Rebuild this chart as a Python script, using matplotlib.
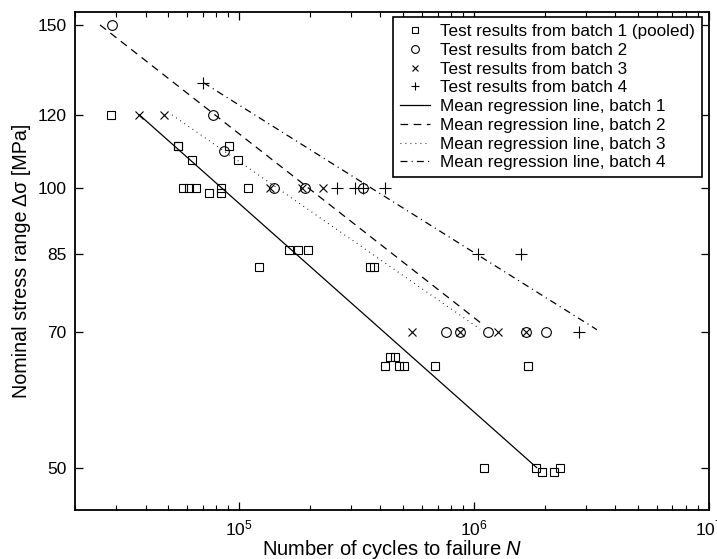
import matplotlib
matplotlib.use("Agg")
import matplotlib.pyplot as plt
from matplotlib.ticker import FixedLocator, NullLocator, LogLocator, NullFormatter

plt.rcParams['font.family'] = ['Liberation Sans', 'DejaVu Sans']
plt.rcParams['mathtext.fontset'] = 'custom'
plt.rcParams['mathtext.it'] = 'Liberation Sans:italic'
plt.rcParams['mathtext.rm'] = 'Liberation Sans'
plt.rcParams['lines.scale_dashes'] = False

# test results, batch 1 (pooled)
b1_N = [28450, 54780, 54780, 90350, 62840, 98970, 57530, 61380, 65560, 74680,
        83780, 83780, 108800, 162700, 177400, 196100, 121300, 361300, 375700,
        418700, 439700, 461800, 481700, 506000, 683800, 1708000, 1105000,
        1836000, 1948000, 2183000, 2331000]
b1_S = [120, 111, 111, 111, 107.2, 107.2, 100, 100, 100, 98.8,
        100, 98.8, 100, 85.8, 85.8, 85.8, 82.3, 82.3, 82.3,
        64.4, 65.8, 65.8, 64.4, 64.4, 64.4, 64.4, 50,
        50, 49.4, 49.4, 50]

# batch 2
b2_N = [28670, 77200, 86270, 140900, 191000, 338300, 761800, 869800,
        1153000, 1659000, 2032000]
b2_S = [150, 120, 109.8, 100, 100, 100, 70, 70, 70, 70, 70]

# batch 3
b3_N = [37580, 48030, 134800, 184500, 228500, 543900, 869800, 1272000, 1659000]
b3_S = [120, 120, 100, 100, 100, 70, 70, 70, 70]

# batch 4
b4_N = [70430, 262100, 311900, 338300, 418600, 1045000, 1590000, 2790000]
b4_S = [130, 100, 100, 100, 100, 85, 85, 70]

# mean regression lines (end points)
reg1_N = [37580, 1850000]; reg1_S = [120, 50]
reg2_N = [25560, 1100000]; reg2_S = [150, 71.2]
reg3_N = [51800, 1063000]; reg3_S = [120, 70.5]
reg4_N = [70400, 3340000]; reg4_S = [130, 70.4]

y_ticks = [50, 70, 85, 100, 120, 150]

fig = plt.figure(figsize=(7.17, 5.59), dpi=100)
ax = fig.add_axes([0.1046, 0.0877, 0.8838, 0.8913])

mk = dict(linestyle='none', color='black', markerfacecolor='none', markeredgewidth=0.8)
ax.plot(b1_N, b1_S, marker='s', markersize=6, label='Test results from batch 1 (pooled)', **mk)
ax.plot(b2_N, b2_S, marker='o', markersize=7, label='Test results from batch 2', **mk)
ax.plot(b3_N, b3_S, marker='x', markersize=6, label='Test results from batch 3', **mk)
ax.plot(b4_N, b4_S, marker='+', markersize=8, label='Test results from batch 4', **mk)

lw = 0.9
ax.plot(reg1_N, reg1_S, color='black', lw=lw, linestyle='-', label='Mean regression line, batch 1')
ax.plot(reg2_N, reg2_S, color='black', lw=lw, dashes=(5.5, 4), label='Mean regression line, batch 2')
ax.plot(reg3_N, reg3_S, color='black', lw=0.8, dashes=(0.6, 3), label='Mean regression line, batch 3')
ax.plot(reg4_N, reg4_S, color='black', lw=lw, dashes=(5, 3, 0.8, 3), label='Mean regression line, batch 4')

ax.set_xscale('log')
ax.set_yscale('log')
ax.set_xlim(2e4, 1e7)
ax.set_ylim(45, 155)

ax.yaxis.set_major_locator(FixedLocator(y_ticks))
ax.yaxis.set_minor_locator(NullLocator())
ax.set_yticklabels([str(v) for v in y_ticks])
ax.xaxis.set_major_locator(LogLocator(base=10))
ax.xaxis.set_minor_locator(LogLocator(base=10, subs=range(2, 10)))
ax.xaxis.set_minor_formatter(NullFormatter())

ax.tick_params(which='both', direction='in', top=True, right=True, labelsize=12.5)
ax.tick_params(which='major', length=6, width=0.9, pad=6)
ax.tick_params(which='minor', length=3.5, width=0.8)
for s in ax.spines.values():
    s.set_linewidth(1.3)

ax.set_xlabel('Number of cycles to failure $N$', fontsize=14.5, labelpad=0)
ax.set_ylabel('Nominal stress range Δσ [MPa]', fontsize=14.2, labelpad=5)

leg = ax.legend(loc='upper right', bbox_to_anchor=(0.989, 0.989), borderaxespad=0,
                fontsize=12.3, numpoints=1, fancybox=False, framealpha=1,
                edgecolor='black', handlelength=1.75, handletextpad=0.6,
                labelspacing=0.22, borderpad=0.4, markerscale=0.8)
leg.get_frame().set_linewidth(1.2)

fig.savefig('out.png', dpi=100)
